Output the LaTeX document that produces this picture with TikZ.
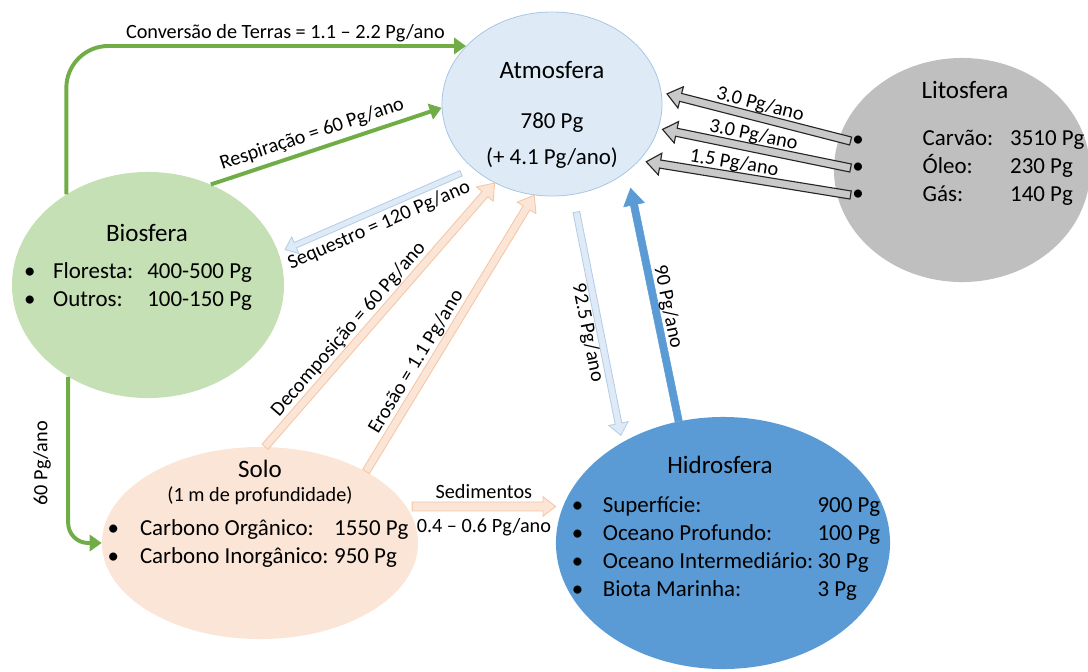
\documentclass[tikz,border=0pt]{standalone}
\usepackage{fontspec}
\setmainfont{Carlito}
\usetikzlibrary{arrows.meta, calc, shapes.geometric}
\definecolor{atmfill}{HTML}{DEEBF7}
\definecolor{atmline}{HTML}{A9C8E6}
\definecolor{litfill}{HTML}{BFBFBF}
\definecolor{biofill}{HTML}{C5E0B4}
\definecolor{solofill}{HTML}{FBE5D6}
\definecolor{hidfill}{HTML}{5B9BD5}
\definecolor{leafgreen}{HTML}{70AD47}
\definecolor{peachline}{HTML}{F4B183}
\definecolor{skyline}{HTML}{B4CDE8}
\tikzset{
  sphere/.style   = {ellipse, inner sep=0pt},
  flow/.style     = {draw=leafgreen, line width=2.8pt, line join=round,
                     -{Triangle[length=8.5pt, width=11.5pt]}},
  skyarr/.style   = {fill=atmfill, draw=skyline, line width=0.6pt},
  peacharr/.style = {fill=solofill, draw=peachline!75, line width=0.6pt},
  deeparr/.style  = {fill=hidfill, draw=hidfill, line width=0.4pt},
  rockarr/.style  = {fill=litfill!85, draw=black!85, line width=0.8pt},
  ttl/.style      = {font=\fontsize{17.8}{21}\selectfont, inner sep=1pt},
  itm/.style      = {font=\fontsize{16.3}{19.7}\selectfont, inner sep=1pt},
  lbl/.style      = {font=\fontsize{14.4}{17}\selectfont, inner sep=1.5pt},
}
\pgfkeys{/barrow/.cd, shaft/.store in=\bashaft, wing/.store in=\bawing,
  head/.store in=\bahead, gap a/.store in=\bagapa, gap b/.store in=\bagapb}
% block arrow: [geometry]{style}{from}{to}{label}
\newcommand{\blockarrow}[5][]{%
  \pgfkeys{/barrow/.cd, shaft=2.8pt, wing=7.5pt, head=10pt, gap a=0pt, gap b=0pt, #1}%
  \coordinate (ba-s) at ($(#3)!\bagapa!(#4)$);
  \coordinate (ba-e) at ($(#4)!\bagapb!(#3)$);
  \coordinate (ba-h) at ($(ba-e)!\bahead!(ba-s)$);
  \filldraw[#2] ($(ba-s)!\bashaft!90:(ba-e)$) -- ($(ba-h)!\bashaft!90:(ba-e)$)
    -- ($(ba-h)!\bawing!90:(ba-e)$) -- (ba-e) -- ($(ba-h)!\bawing!-90:(ba-e)$)
    -- ($(ba-h)!\bashaft!-90:(ba-e)$) -- ($(ba-s)!\bashaft!-90:(ba-e)$) -- cycle;
  \path (ba-s) -- (ba-e) #5;}

\begin{document}
\begin{tikzpicture}[x=0.025cm, y=-0.025cm]
  \useasboundingbox (0,0) rectangle (1088,672);
  % reservatorios
  \node[sphere, fill=atmfill, draw=atmline, line width=0.6pt,
        minimum width=5.5cm, minimum height=4.6cm] (atm) at (552,104) {};
  \node[sphere, fill=litfill, minimum width=6.4cm, minimum height=5.6cm] (lit) at (962,170) {};
  \node[sphere, fill=biofill, minimum width=6.8cm, minimum height=5.65cm] (bio) at (148,285) {};
  \node[sphere, fill=solofill, minimum width=7.9cm, minimum height=4.8cm] (solo) at (260,543) {};
  \node[sphere, fill=hidfill, minimum width=8.35cm, minimum height=6.3cm] (hid) at (723,543) {};

  \node[ttl] (atmt) at (552,70) {Atmosfera};
  \node[itm] (atmv) at (552,123) {780 Pg};
  \node[itm] (atmr) at (552,158) {(+ 4.1 Pg/ano)};

  \node[ttl] (litt) at (965,90) {Litosfera};
  \foreach \i/\y in {1/141,2/168,3/195}{\node[itm] (lb\i) at (858,\y) {•};}
  \node[itm, anchor=west] (litl) at (921,168)
    {\begin{tabular}{@{}l@{\hspace{12pt}}l@{}}Carvão:&3510 Pg\\Óleo:&230 Pg\\Gás:&140 Pg\end{tabular}};

  \node[ttl] (biot) at (147,233) {Biosfera};
  \node[itm] (biol) at (138,287)
    {\begin{tabular}{@{}l@{\hspace{12.5pt}}l@{\hspace{10pt}}l@{}}•&Floresta:&400-500 Pg\\•&Outros:&100-150 Pg\end{tabular}};

  \node[ttl] (solot) at (260,469) {Solo};
  \node[lbl] (solos) at (260,496) {(1 m de profundidade)};
  \node[itm] (solol) at (258,544)
    {\begin{tabular}{@{}l@{\hspace{15pt}}l@{\hspace{4pt}}l@{}}•&Carbono Orgânico:&1550 Pg\\•&Carbono Inorgânico:&950 Pg\end{tabular}};

  \node[ttl] (hidt) at (720,465) {Hidrosfera};
  \node[itm] (hidl) at (726,549)
    {\begin{tabular}{@{}l@{\hspace{14pt}}l@{\hspace{3pt}}l@{}}•&Superfície:&900 Pg\\•&Oceano Profundo:&100 Pg\\
      •&Oceano Intermediário:&30 Pg\\•&Biota Marinha:&3 Pg\end{tabular}};

  % fluxos
  \draw[flow, rounded corners=1.05cm] (bio.132) |- (atm.146)
    node[lbl, pos=0.774, above] (lconv) {Conversão de Terras = 1.1 – 2.2 Pg/ano};
  \draw[flow] (bio.58) -- (atm.182)
    node[lbl, sloped, above=2pt, pos=0.46] (lresp) {Respiração = 60 Pg/ano};
  \draw[flow, rounded corners=0.5cm] (bio.229) |- (solo.180)
    node[lbl, pos=0.26, xshift=-18.5pt, rotate=90] (lbs) {60 Pg/ano};

  \blockarrow[gap a=9pt, gap b=5pt, shaft=2.1pt, wing=6.4pt, head=8pt]{skyarr}{atm.219}{bio.14}
    {node[lbl, sloped, below=3pt, pos=0.5] (lseq) {Sequestro = 120 Pg/ano}}
  \blockarrow[wing=7.8pt, head=10.5pt]{peacharr}{solo.87}{atm.234}
    {node[lbl, sloped, above=2pt, pos=0.41] (ldec) {Decomposição = 60 Pg/ano}}
  \blockarrow[wing=7.8pt, head=10.5pt]{peacharr}{solo.34}{atm.259}
    {node[lbl, sloped, above=2pt, pos=0.37] (lero) {Erosão = 1.1 Pg/ano}}
  \blockarrow[gap a=12.5pt, gap b=5pt, shaft=2.4pt, wing=7pt, head=8.5pt]{skyarr}{atm.283}{hid.135}
    {node[lbl, sloped, below=1pt, pos=0.53] (l925) {92.5 Pg/ano}}
  \blockarrow[gap b=12pt, shaft=2.6pt, wing=7.5pt, head=12pt]{deeparr}{hid.110}{atm.318}
    {node[lbl, sloped, above=1pt, pos=0.48] (l90) {90 Pg/ano}}

  \blockarrow[gap b=4pt, shaft=2.9pt, wing=7.8pt]{rockarr}{lb1.west}{atm.6}
    {node[lbl, sloped, above=1pt, pos=0.51] (lcarv) {3.0 Pg/ano}}
  \blockarrow[gap b=3pt, shaft=2.9pt, wing=7.8pt]{rockarr}{lb2.west}{atm.347}
    {node[lbl, sloped, above=1pt, pos=0.53] (loleo) {3.0 Pg/ano}}
  \blockarrow[gap b=5pt, shaft=2.9pt, wing=7.8pt]{rockarr}{lb3.west}{atm.327}
    {node[lbl, sloped, above=1pt, pos=0.58] (lgas) {1.5 Pg/ano}}

  \blockarrow[gap a=4pt, shaft=3.2pt, wing=7pt, head=9pt]{peacharr}{solo.14}{hid.west |- solo.14}
    {node[lbl, above=4pt, midway] (lsed) {Sedimentos} node[lbl, below=7pt, midway] (lsedv) {0.4 – 0.6 Pg/ano}}
\end{tikzpicture}
\end{document}
